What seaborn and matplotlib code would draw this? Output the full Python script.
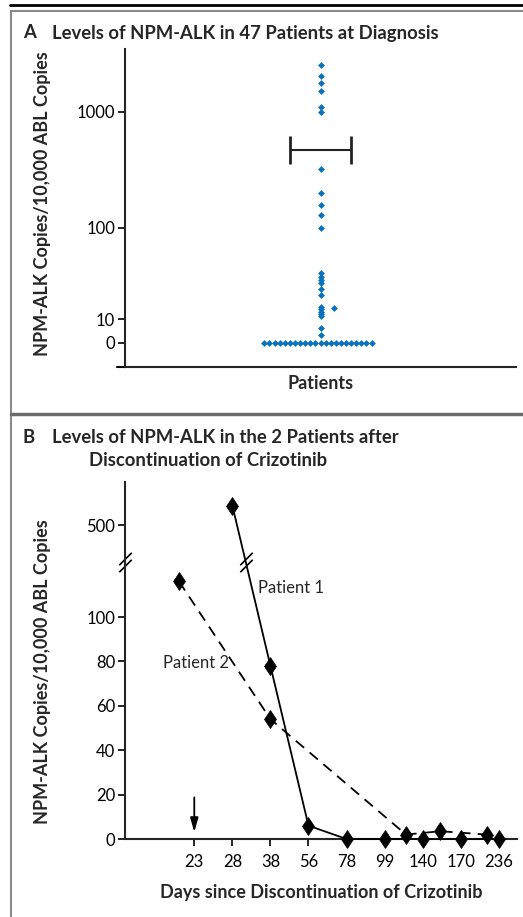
import numpy as np
import pandas as pd
import matplotlib
matplotlib.use("Agg")
import matplotlib.pyplot as plt
from matplotlib.lines import Line2D
from matplotlib.path import Path
import seaborn as sns

# panel A: NPM-ALK copies at diagnosis (47 patients)
zero_levels = [0] * 22
column_levels = [2530, 2030, 1760, 1520, 1100, 990,
                 320, 200, 158, 128, 100,
                 32, 29, 27, 24.7, 21.3, 18.4,
                 13.7, 12.9, 12.1, 11.4, 10.9,
                 6.2, 3.3]
side_levels = [13.2]
bar_level = 470
a_ticks = [0, 10, 100, 1000]

# panel B: the 2 patients after stopping crizotinib
day_ticks = [23, 28, 38, 56, 78, 99, 140, 170, 236]
p1_days = [28, 38, 56, 78, 99, 140, 170, 236]
p1_vals = [700, 78, 6, 0, 0, 0, 0, 0]
p2_days = [21, 38, 122, 154, 215]
p2_vals = [116, 54, 2, 3.5, 2]
b_ticks = [0, 20, 40, 60, 80, 100, 500]
break_val = 125
arrow_day = 23

blue = "#0a72bd"


# broken log-ish axis of panel A
def a_fwd(v):
    v = np.asarray(v, dtype=float)
    lo = v * 2.34
    mid = 23.4 + 91.6 * np.log10(np.clip(v, 10, None) / 10)
    hi = 115 + 116 * np.log10(np.clip(v, 100, None) / 100)
    return np.where(v <= 10, lo, np.where(v <= 100, mid, hi))


def a_inv(p):
    p = np.asarray(p, dtype=float)
    lo = p / 2.34
    mid = 10 * 10 ** ((np.clip(p, 0, 400) - 23.4) / 91.6)
    hi = 100 * 10 ** ((np.clip(p, 0, 400) - 115) / 116)
    return np.where(p <= 23.4, lo, np.where(p <= 115, mid, hi))


# panel B y: linear up to the break, squeezed above it
def b_fwd(v):
    v = np.asarray(v, dtype=float)
    return np.where(v <= break_val, v * 2.22, break_val * 2.22 + (v - break_val) * 0.0973)


def b_inv(p):
    p = np.asarray(p, dtype=float)
    return np.where(p <= break_val * 2.22, p / 2.22, break_val + (p - break_val * 2.22) / 0.0973)


# panel B x: tick days evenly spaced
td = np.array(day_ticks, dtype=float)
ti = np.arange(len(td), dtype=float)


def x_fwd(d):
    d = np.asarray(d, dtype=float)
    mid = np.interp(d, td, ti)
    left = (d - td[0]) / (td[1] - td[0])
    right = ti[-1] + (d - td[-1]) / (td[-1] - td[-2])
    return np.where(d < td[0], left, np.where(d > td[-1], right, mid))


def x_inv(p):
    p = np.asarray(p, dtype=float)
    mid = np.interp(p, ti, td)
    left = td[0] + p * (td[1] - td[0])
    right = td[-1] + (p - ti[-1]) * (td[-1] - td[-2])
    return np.where(p < 0, left, np.where(p > ti[-1], right, mid))


sns.set_theme(style="ticks")
plt.rcParams["font.family"] = ["Lato", "DejaVu Sans"]
plt.rcParams["axes.linewidth"] = 1.5
plt.rcParams["xtick.major.width"] = 1.2
plt.rcParams["ytick.major.width"] = 1.2
plt.rcParams["xtick.major.size"] = 5
plt.rcParams["ytick.major.size"] = 5
plt.rcParams["xtick.labelsize"] = 12
plt.rcParams["ytick.labelsize"] = 12

W, H = 523, 917
fig = plt.figure(figsize=(W / 100, H / 100), dpi=100)


def fx(px):
    return px / W


def fy(py):
    return 1 - py / H


# frame decoration
fig.add_artist(Line2D([fx(10), 1], [fy(5), fy(5)], color="black", lw=2))
fig.add_artist(Line2D([fx(11), 1], [fy(11), fy(11)], color="#8a8a8a", lw=1.5))
fig.add_artist(Line2D([fx(11), fx(11)], [fy(11), 0], color="#8a8a8a", lw=1.5))
fig.add_artist(Line2D([fx(11), 1], [fy(414), fy(414)], color="#6a6a6a", lw=2.5))

lab_font = dict(fontsize=13, fontweight="bold")
title_font = dict(fontsize=13.3, fontweight="bold", va="center")

# ---------- panel A ----------
axA = fig.add_axes([fx(125), fy(366.7), fx(516) - fx(125), (366.7 - 49) / H])
axA.set_yscale("function", functions=(a_fwd, a_inv))
dfa = pd.DataFrame({"g": [0] * len(zero_levels), "v": zero_levels})
sns.swarmplot(data=dfa, x="g", y="v", ax=axA, color=blue, marker="D", size=3.5,
              linewidth=0, native_scale=True)
dfc = pd.DataFrame({"g": [0] * len(column_levels), "v": column_levels})
sns.stripplot(data=dfc, x="g", y="v", ax=axA, color=blue, marker="D", size=3.5,
              linewidth=0, jitter=False, native_scale=True)
axA.scatter([0.034] * len(side_levels), side_levels, color=blue, marker="D", s=3.5 ** 2, lw=0)
axA.errorbar([0], [bar_level], xerr=0.079, fmt="none", ecolor="#222222", elinewidth=1.5,
             capsize=10, capthick=2)
axA.set_xlim(-0.5, 0.5)
axA.set_ylim(-10.3, 3475)
axA.set_yticks(a_ticks)
axA.set_yticklabels([str(t) for t in a_ticks])
axA.minorticks_off()
axA.set_xticks([])
axA.set_xlabel("Patients", labelpad=6, **lab_font)
axA.set_ylabel("NPM-ALK Copies/10,000 ABL Copies", **lab_font)
axA.yaxis.set_label_coords(-0.19, 0.512)
axA.tick_params(axis="y", colors="black", pad=2)
sns.despine(ax=axA)
axA.plot([-0.02, 0], [0, 0], transform=axA.transAxes, color="black", lw=1.5, clip_on=False)

fig.text(fx(23), fy(33), "A", **title_font)
fig.text(fx(52), fy(33), "Levels of NPM-ALK in 47 Patients at Diagnosis", **title_font)

# ---------- panel B ----------
axB = fig.add_axes([fx(125), fy(839), fx(516.7) - fx(125), (839 - 482) / H])
axB.set_xscale("function", functions=(x_fwd, x_inv))
axB.set_yscale("function", functions=(b_fwd, b_inv))
sns.lineplot(x=p1_days, y=p1_vals, ax=axB, color="black", lw=1.3, marker="d",
             markersize=9.5, markeredgecolor="black", markeredgewidth=0.5,
             estimator=None, clip_on=False, zorder=3)
sns.lineplot(x=p2_days, y=p2_vals, ax=axB, color="black", lw=1.3, linestyle=(0, (6, 4)),
             marker="d", markersize=9.5, markeredgecolor="black", markeredgewidth=0.5,
             estimator=None, clip_on=False, zorder=3)
axB.set_xlim(x_inv(-1.82), x_inv(8.47))
axB.set_ylim(0, b_inv(357))
axB.set_xticks(day_ticks)
axB.set_xticklabels([str(d) for d in day_ticks])
axB.set_yticks(b_ticks)
axB.set_yticklabels([str(t) for t in b_ticks])
axB.minorticks_off()
axB.tick_params(axis="both", colors="black", pad=2)
axB.tick_params(axis="x", pad=6)
axB.set_xlabel("Days since Discontinuation of Crizotinib", labelpad=10, **lab_font)
axB.set_ylabel("NPM-ALK Copies/10,000 ABL Copies", **lab_font)
axB.yaxis.set_label_coords(-0.19, 0.468)
sns.despine(ax=axB)

# break marks: on the y axis and on the patient 1 line
slash = Path([(-0.8, -1.25), (0.8, 0.35), (-0.8, -0.35), (0.8, 1.25)],
             [Path.MOVETO, Path.LINETO, Path.MOVETO, Path.LINETO])
axB.plot([0], [break_val], transform=axB.get_yaxis_transform(), marker=slash,
         markersize=14, mew=1.2, color="black", clip_on=False, ls="none")
t = (b_fwd(p1_vals[0]) - b_fwd(break_val)) / (b_fwd(p1_vals[0]) - b_fwd(p1_vals[1]))
brk_x = x_inv(x_fwd(p1_days[0]) + t * (x_fwd(p1_days[1]) - x_fwd(p1_days[0])))
axB.plot([brk_x], [break_val], marker=slash, markersize=14, mew=1.2, color="black", ls="none")

axB.annotate("", xy=(arrow_day, 0), xytext=(0, 30), textcoords="offset points",
             arrowprops=dict(arrowstyle="-|>,head_width=0.2,head_length=0.7", color="black",
                             lw=1.3, shrinkA=0, shrinkB=5))
axB.annotate("Patient 1", xy=(brk_x, break_val), xytext=(9, -19), textcoords="offset points",
             fontsize=12, va="center", ha="left")
axB.annotate("Patient 2", xy=(p2_days[0], p2_vals[0]), xytext=(36, -59),
             textcoords="offset points", fontsize=12, va="center", ha="right")

fig.text(fx(23), fy(437), "B", **title_font)
fig.text(fx(52), fy(437), "Levels of NPM-ALK in the 2 Patients after", **title_font)
fig.text(fx(89), fy(460), "Discontinuation of Crizotinib", **title_font)

fig.savefig("out.png", dpi=100)
